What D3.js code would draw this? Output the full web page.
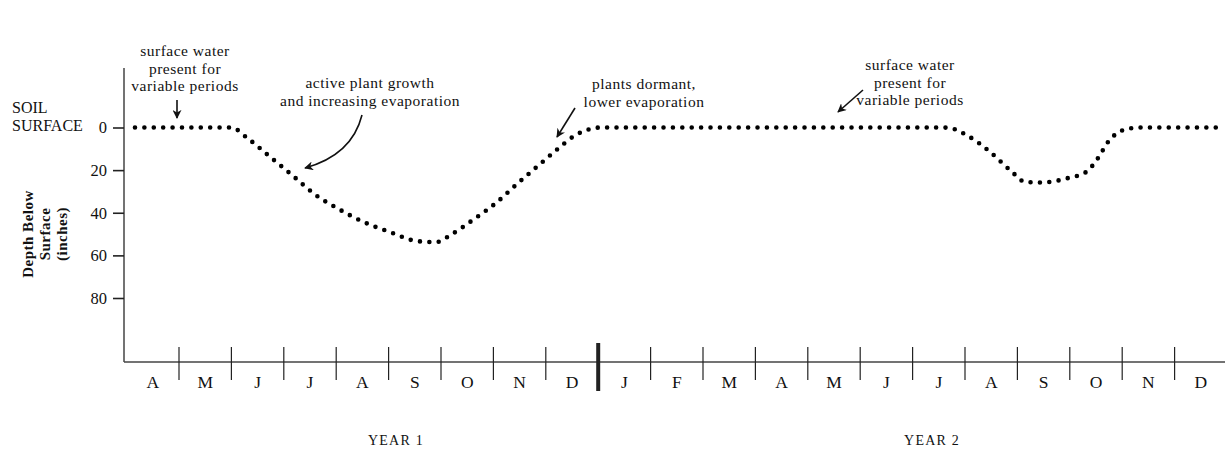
<!DOCTYPE html>
<html>
<head>
<meta charset="utf-8">
<script src="https://d3js.org/d3.v7.min.js"></script>
<style>
  body { margin: 0; background: #fff; }
  text { font-family: "Liberation Serif", "Times New Roman", serif; fill: #111; }
</style>
</head>
<body>
<script>
// month labels, April of year 1 to December of year 2
var months = ["A","M","J","J","A","S","O","N","D","J","F","M","A","M","J","J","A","S","O","N","D"];
// boundary between December and January (in month index)
var yearBreak = 9;
var yearLabels = ["YEAR 1", "YEAR 2"];
var yearCenters = [5.14, 15.37];

// depth axis ticks (inches)
var depthTicks = [0, 20, 40, 60, 80];

// water level curve: month index and depth below surface
var curveMonth = [0.16, 2.0, 2.30, 2.74, 3.18, 3.61, 4.05, 4.53, 5.03, 5.54, 5.90, 6.21, 6.63, 7.05, 7.45, 7.87, 8.25, 8.54, 8.88, 9.05,
                  15.56, 15.72, 16.06, 16.48, 16.90, 17.15, 17.45, 17.97, 18.31, 18.54, 18.73, 19.02, 19.34, 20.87];
var curveDepth = [0, 0, 4.9, 13.8, 22.8, 31.7, 38.3, 44.4, 49.1, 53.3, 53.8, 50, 43, 35.4, 26.5, 17.6, 9.6, 4.0, 0.5, 0,
                  0, 0.3, 4, 11.5, 20.9, 25.6, 25.8, 23.7, 20.9, 14.3, 6.8, 1.2, 0, 0];

var width = 1225, height = 452;
var axisX = 124, axisTop = 68, baseY = 362;

var svg = d3.select("body").append("svg")
  .attr("width", width)
  .attr("height", height);

var x = d3.scaleLinear().domain([0, 21]).range([126.6, 1227]);
var y = d3.scaleLinear().domain([0, 80]).range([127.5, 298]);

// arrow head
svg.append("defs").append("marker")
  .attr("id", "head")
  .attr("viewBox", "0 0 10 10")
  .attr("refX", 9).attr("refY", 5)
  .attr("markerWidth", 9).attr("markerHeight", 9)
  .attr("markerUnits", "userSpaceOnUse")
  .attr("orient", "auto")
  .append("path")
  .attr("d", "M0,0 L10,5 L0,10 L3,5 Z")
  .attr("fill", "#111");

//------------------------- axes -------------------------
svg.append("line")
  .attr("x1", axisX).attr("x2", axisX)
  .attr("y1", axisTop).attr("y2", baseY)
  .attr("stroke", "#444").attr("stroke-width", 1.5);

svg.append("line")
  .attr("x1", axisX).attr("x2", width)
  .attr("y1", baseY).attr("y2", baseY)
  .attr("stroke", "#444").attr("stroke-width", 1.5);

var yAxis = svg.append("g")
  .attr("transform", "translate(" + axisX + ",0)")
  .call(d3.axisLeft(y).tickValues(depthTicks).tickSize(11).tickPadding(6));
yAxis.select(".domain").remove();
yAxis.selectAll("line").attr("stroke", "#222").attr("stroke-width", 1.6);
yAxis.selectAll("text")
  .attr("font-size", 16.5)
  .style("font-family", "Liberation Serif")
  .attr("fill", "#111");

// month boundary ticks
var bounds = d3.range(1, 21);
svg.selectAll(".mtick")
  .data(bounds)
  .enter().append("line")
  .attr("class", "mtick")
  .attr("x1", function(d) { return x(d); })
  .attr("x2", function(d) { return x(d); })
  .attr("y1", function(d) { return d === yearBreak ? 343 : 347; })
  .attr("y2", function(d) { return d === yearBreak ? 391 : 380; })
  .attr("stroke", "#222")
  .attr("stroke-width", function(d) { return d === yearBreak ? 4 : 1.2; });

// month labels
svg.selectAll(".mlab")
  .data(months)
  .enter().append("text")
  .attr("class", "mlab")
  .attr("x", function(d, i) { return x(i + 0.5); })
  .attr("y", 388)
  .attr("text-anchor", "middle")
  .attr("font-size", 17.5)
  .text(function(d) { return d; });

// year labels
svg.selectAll(".ylab")
  .data(yearLabels)
  .enter().append("text")
  .attr("class", "ylab")
  .attr("x", function(d, i) { return x(yearCenters[i]); })
  .attr("y", 445)
  .attr("text-anchor", "middle")
  .attr("font-size", 14)
  .attr("letter-spacing", 1.2)
  .text(function(d) { return d; });

// soil surface label
svg.append("text")
  .attr("x", 12).attr("y", 113)
  .attr("font-size", 16)
  .text("SOIL");
svg.append("text")
  .attr("x", 12).attr("y", 131)
  .attr("font-size", 16)
  .text("SURFACE");

// rotated depth label
var ylab = svg.append("text")
  .attr("transform", "translate(33,234) rotate(-90)")
  .attr("text-anchor", "middle")
  .attr("font-size", 15)
  .attr("letter-spacing", 0.5)
  .attr("font-weight", "bold");
ylab.selectAll("tspan")
  .data(["Depth Below", "Surface", "(inches)"])
  .enter().append("tspan")
  .attr("x", 0)
  .attr("dy", function(d, i) { return i === 0 ? 0 : 17; })
  .text(function(d) { return d; });

//------------------------- water level -------------------------
var pts = curveMonth.map(function(m, i) { return [m, curveDepth[i]]; });
var line = d3.line()
  .x(function(d) { return x(d[0]); })
  .y(function(d) { return y(d[1]); })
  .curve(d3.curveMonotoneX);

svg.append("path")
  .datum(pts)
  .attr("d", line)
  .attr("fill", "none")
  .attr("stroke", "#000")
  .attr("stroke-width", 4.6)
  .attr("stroke-linecap", "round")
  .attr("stroke-dasharray", "0,9.4");

//------------------------- annotations -------------------------
var notes = [
  { cx: 185, y: 56, lines: ["surface water", "present for", "variable periods"] },
  { cx: 370, y: 88, lines: ["active plant growth", "and increasing evaporation"] },
  { cx: 644, y: 89, lines: ["plants dormant,", "lower evaporation"] },
  { cx: 910, y: 70, lines: ["surface water", "present for", "variable periods"] }
];
notes.forEach(function(n) {
  var t = svg.append("text")
    .attr("text-anchor", "middle")
    .attr("font-size", 15.5)
    .attr("letter-spacing", 0.5);
  n.lines.forEach(function(s, i) {
    t.append("tspan")
      .attr("x", n.cx)
      .attr("y", n.y + i * 17.5)
      .text(s);
  });
});

var arrows = [
  "M177,100 L177,118",
  "M362,115 Q352,155 305,168",
  "M575,108 L557,137",
  "M863,90 L838,112"
];
svg.selectAll(".arrow")
  .data(arrows)
  .enter().append("path")
  .attr("class", "arrow")
  .attr("d", function(d) { return d; })
  .attr("fill", "none")
  .attr("stroke", "#111")
  .attr("stroke-width", 1.6)
  .attr("marker-end", "url(#head)");
</script>
</body>
</html>
